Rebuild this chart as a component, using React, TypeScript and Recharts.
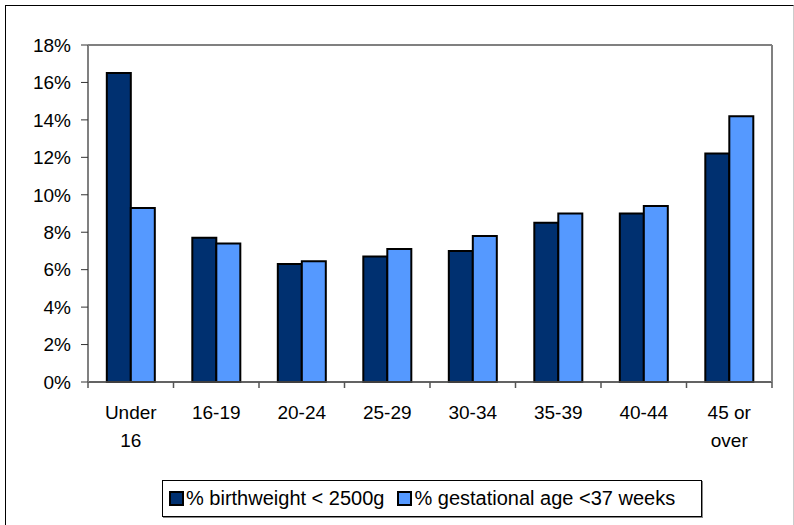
import React from 'react';
import { BarChart, Bar, XAxis, YAxis, CartesianGrid, ReferenceLine } from 'recharts';

const categories = ['Under 16', '16-19', '20-24', '25-29', '30-34', '35-39', '40-44', '45 or over'];
const tickLines = [['Under', '16'], ['16-19'], ['20-24'], ['25-29'], ['30-34'], ['35-39'], ['40-44'], ['45 or', 'over']];
const birthweight = [16.5, 7.7, 6.3, 6.7, 7.0, 8.5, 9.0, 12.2];
const gestational = [9.3, 7.4, 6.45, 7.1, 7.8, 9.0, 9.4, 14.2];
const yTicks = [0, 2, 4, 6, 8, 10, 12, 14, 16, 18];
const seriesNames = ['% birthweight < 2500g', '% gestational age <37 weeks'];
const seriesColors = ['#003070', '#5599FF'];

const data = categories.map((c, i) => ({
  name: c,
  bw: birthweight[i],
  ga: gestational[i],
}));

const FONT = '"Liberation Sans", Arial, sans-serif';
const PLOT_WIDTH = 684;
const BAND = PLOT_WIDTH / categories.length;

// tick labels + tick marks at category boundaries (Excel style)
function CategoryTick(props: any) {
  const { x, y, index } = props;
  const lines = tickLines[index] || [];
  const isLast = index === categories.length - 1;
  return (
    <g>
      <line x1={x - BAND / 2} x2={x - BAND / 2} y1={y} y2={y + 6} stroke="#555" strokeWidth={1.5} />
      {isLast && <line x1={x + BAND / 2} x2={x + BAND / 2} y1={y} y2={y + 6} stroke="#555" strokeWidth={1.5} />}
      {lines.map((l, i) => (
        <text key={i} x={x} y={y + 37 + i * 28} textAnchor="middle" fontSize={19} fontFamily={FONT} fill="#000">
          {l}
        </text>
      ))}
    </g>
  );
}

export default function App() {
  return (
    <div style={{ position: 'absolute', left: 0, top: 0, width: 794, height: 525, background: '#fff', overflow: 'hidden' }}>
      <div
        style={{
          position: 'absolute',
          left: 5,
          top: 5,
          width: 787,
          height: 540,
          borderTop: '1.5px solid #000',
          borderLeft: '1.5px solid #000',
          borderRight: '1px solid #ccc',
        }}
      />
      <div style={{ position: 'absolute', left: 0, top: 0 }}>
        <BarChart
          width={794}
          height={525}
          data={data}
          margin={{ top: 45, right: 21, bottom: 113, left: 0 }}
          barCategoryGap="22%"
          barGap={0}
        >
          <CartesianGrid vertical={false} stroke="#222" strokeWidth={1} />
          <XAxis
            dataKey="name"
            interval={0}
            height={30}
            tickLine={false}
            tickSize={0}
            tickMargin={0}
            tick={<CategoryTick />}
            axisLine={{ stroke: '#555', strokeWidth: 1.5 }}
          />
          <YAxis
            yAxisId="left"
            domain={[0, 18]}
            ticks={yTicks}
            width={88}
            tickSize={7}
            tickMargin={10}
            tickFormatter={(v) => `${v}%`}
            tick={{ fontSize: 19, fontFamily: FONT, fill: '#000' }}
            tickLine={{ stroke: '#333' }}
            axisLine={{ stroke: '#808080', strokeWidth: 2 }}
          />
          <YAxis
            yAxisId="right"
            orientation="right"
            domain={[0, 18]}
            width={1}
            tick={false}
            tickLine={false}
            axisLine={{ stroke: '#808080', strokeWidth: 2 }}
          />
          <ReferenceLine yAxisId="left" y={18} stroke="#808080" strokeWidth={2} />
          <Bar yAxisId="left" dataKey="bw" name={seriesNames[0]} fill={seriesColors[0]} stroke="#000" strokeWidth={2} isAnimationActive={false} />
          <Bar yAxisId="left" dataKey="ga" name={seriesNames[1]} fill={seriesColors[1]} stroke="#000" strokeWidth={2} isAnimationActive={false} />
        </BarChart>
      </div>
      <div
        style={{
          position: 'absolute',
          left: 162,
          top: 480,
          width: 540,
          height: 37,
          boxSizing: 'border-box',
          border: '1px solid #000',
          boxShadow: '1px 1px 0 #888',
          display: 'flex',
          alignItems: 'center',
          paddingLeft: 6,
          fontFamily: FONT,
          fontSize: 20,
          color: '#000',
          whiteSpace: 'nowrap',
        }}
      >
        {seriesNames.map((n, i) => (
          <div key={n} style={{ display: 'flex', alignItems: 'center', marginLeft: i === 0 ? 0 : 13 }}>
            <span
              style={{
                display: 'inline-block',
                width: 11,
                height: 11,
                background: seriesColors[i],
                border: '2px solid #000',
                marginRight: 2,
              }}
            />
            <span>{n}</span>
          </div>
        ))}
      </div>
    </div>
  );
}
